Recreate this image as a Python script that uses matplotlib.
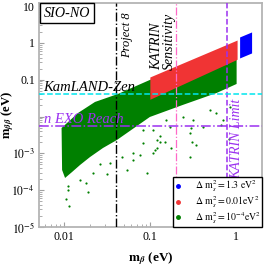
import matplotlib
matplotlib.use("Agg")
import matplotlib.pyplot as plt
from matplotlib.lines import Line2D
import numpy as np

plt.rcParams['font.family'] = ['Liberation Serif', 'DejaVu Serif']
plt.rcParams['mathtext.fontset'] = 'stix'

# ---- data ----
# green band (dm^2 = 1e-4 eV^2): dense region outline
green_upper_mb = [0.00935, 0.01113, 0.01455, 0.02292, 0.04246, 0.1, 1.027]
green_upper_mbb = [0.0049, 0.0071, 0.01253, 0.02493, 0.0411, 0.0988, 0.443]
green_lower_mb = [1.027, 0.601, 0.242, 0.1, 0.0413, 0.0284, 0.0201, 0.01535, 0.01239, 0.01027, 0.00948]
green_lower_mbb = [0.0769, 0.0438, 0.0207, 0.00975, 0.00231, 0.0014, 0.000798, 0.000484, 0.000312, 0.000215, 0.000354]
# scattered green points below the dense region
green_pts_mb = [0.0314, 0.092, 0.0192, 0.0105, 0.0114, 0.0112, 0.018, 0.0154, 0.0262, 0.0469,
                0.0536, 0.064, 0.0765, 0.12, 0.131, 0.149, 0.0217, 0.0112, 0.31, 0.295,
                0.177, 0.1135, 0.343, 0.845, 0.13, 0.108, 0.171, 0.32, 0.417, 0.593,
                0.706, 0.851, 0.242, 0.156, 0.499, 0.292, 0.675, 0.302, 0.083, 0.083,
                0.108, 0.064, 0.0343, 0.12]
green_pts_mbb = [2.75e-4, 2.99e-4, 8.8e-5, 5.8e-5, 3.7e-5, 1.0e-4, 1.54e-4, 1.9e-4, 5.15e-4, 8.1e-4,
                 3.54e-4, 1.0e-3, 9.0e-4, 1.4e-3, 2.08e-3, 2.08e-3, 2.93e-4, 1.3e-4, 2.0e-3, 8.0e-4,
                 1.4e-3, 1.2e-3, 1.72e-3, 2.46e-3, 2.97e-3, 4.3e-3, 5.3e-3, 8.1e-3, 5.3e-3, 1.23e-2,
                 8.1e-3, 1.86e-2, 9.9e-3, 8.1e-3, 1.51e-2, 3.6e-3, 5.9e-3, 4.8e-3, 4.3e-3, 1.88e-3,
                 1.0e-3, 6.6e-4, 5.4e-4, 2.3e-3]
# red band (dm^2 = 0.01 eV^2)
red_mb = [0.1, 1.04]
red_top = [0.119, 1.2]
red_bot = [0.0295, 0.36]
# blue band (dm^2 = 1.3 eV^2)
blue_mb = [1.113, 1.535]
blue_top = [1.456, 1.99]
blue_bot = [0.391, 0.535]

project8 = 0.04
katrin_sens = 0.2
katrin_limit = 0.8
kamland_zen = 0.04
nexo = 0.0056

legend_labels = [r'$\Delta\ \mathrm{m}_s^2 = 1.3\ \mathrm{eV}^2$',
                 r'$\Delta\ \mathrm{m}_s^2 = 0.01\mathrm{eV}^2$',
                 r'$\Delta\ \mathrm{m}_s^2 = 10^{-4}\mathrm{eV}^2$']

green = '#008000'
red = '#f03434'
blue = '#0000ff'
purple = '#9b30f0'
pink = '#ff69c8'

fig = plt.figure(figsize=(2.66, 2.66), dpi=100)
ax = fig.add_axes([39/266, (266-227)/266, (262-39)/266, (227-2.7)/266])
ax.set_xscale('log')
ax.set_yscale('log')
ax.set_xlim(0.0051, 2.03)
ax.set_ylim(1e-5, 12.4)

# green region
gx = green_upper_mb + green_lower_mb
gy = green_upper_mbb + green_lower_mbb
ax.fill(gx, gy, color=green, lw=0, zorder=1)
ax.scatter(green_pts_mb, green_pts_mbb, s=2.5, color=green, lw=0, zorder=1)
# red and blue
ax.fill_between(red_mb, red_bot, red_top, color=red, lw=0, zorder=2)
ax.fill_between(blue_mb, blue_bot, blue_top, color=blue, lw=0, zorder=2)

# experimental lines
ax.axvline(project8, color='black', ls='-.', lw=1.0, zorder=3)
ax.axvline(katrin_sens, color=pink, ls='-.', lw=0.9, zorder=3)
ax.axvline(katrin_limit, color=purple, ls='--', lw=1.1, zorder=3)
ax.axhline(kamland_zen, color='#00e5ee', ls='--', lw=1.1, zorder=3)
ax.axhline(nexo, color=purple, ls='-.', lw=1.1, zorder=3)

# labels
ax.text(0.02, 0.982, 'SIO-NO', transform=ax.transAxes, style='italic', fontsize=10.2,
        ha='left', va='top',
        bbox=dict(boxstyle='square,pad=0.25', fc='white', ec='black', lw=1.0), zorder=5)
ax.text(0.395, 0.856, 'Project 8', transform=ax.transAxes, style='italic', fontsize=9,
        rotation=90, ha='center', va='center', zorder=5)
ax.text(0.556, 0.70, 'KATRIN\nSensitivity', transform=ax.transAxes, style='italic', fontsize=10,
        rotation=90, ha='center', va='bottom', multialignment='left', linespacing=1.0, zorder=5)
ax.text(0.018, 0.606, 'KamLAND-Zen', transform=ax.transAxes, style='italic', fontsize=10.5,
        ha='left', va='baseline', zorder=5)
ax.text(0.022, 0.464, 'n EXO Reach', transform=ax.transAxes, style='italic', fontsize=10.5,
        color=purple, ha='left', va='baseline', zorder=5)
ax.text(0.885, 0.212, 'KATRIN Limit', transform=ax.transAxes, style='italic', fontsize=10,
        color=purple, rotation=90, ha='center', va='bottom', zorder=5)

# legend
handles = [Line2D([], [], marker='o', ls='none', color=c, markersize=2.5)
           for c in (blue, red, green)]
leg = ax.legend(handles, legend_labels, loc='lower right', bbox_to_anchor=(1, 0),
                borderaxespad=0, fontsize=7.0, handlelength=0.6, handletextpad=1.5,
                borderpad=0.12, labelspacing=0.0, fancybox=False, framealpha=1)
leg.get_frame().set_edgecolor('black')
leg.get_frame().set_linewidth(1.0)
leg.set_zorder(6)

# axes styling
ax.set_xticks([0.01, 0.1, 1])
ax.set_xticklabels(['0.01', '0.1', '1'])
ax.set_yticks([1e-5, 1e-4, 1e-3, 1e-2, 0.1, 1, 10])
ax.set_yticklabels([r'$10^{-5}$', r'$10^{-4}$', r'$10^{-3}$', '', '0.1', '1', '10'])
ax.tick_params(which='both', direction='in', color='#a0a0a0', labelsize=8.5, pad=3)
ax.tick_params(which='major', length=3.5, width=0.8)
ax.tick_params(which='minor', length=2, width=0.6)
for s in ax.spines.values():
    s.set_color('#b4b4b4')
    s.set_linewidth(1.3)

ax.set_xlabel(r'$\mathbf{m}_{\boldsymbol{\beta}}$ (eV)', fontsize=9.5, fontweight='bold', labelpad=5)
ax.set_ylabel(r'$\mathbf{m}_{\boldsymbol{\beta\beta}}$ (eV)', fontsize=9.2, fontweight='bold')
ax.yaxis.set_label_coords(-0.105, 0.5)

fig.savefig('out.png', dpi=100)
